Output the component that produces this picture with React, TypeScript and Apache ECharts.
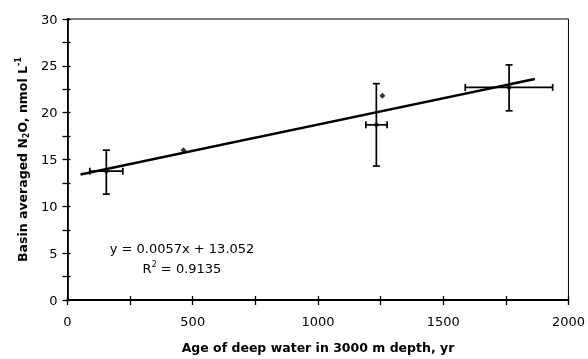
import React, { useEffect, useRef } from "react";
import * as echarts from "echarts";

const errX = [155, 1233, 1763];
const errY = [13.75, 18.7, 22.7];
const errYLow = [11.3, 14.3, 20.2];
const errYHigh = [16.0, 23.1, 25.1];
const errXLow = [89, 1191, 1588];
const errXHigh = [221, 1276, 1937];
const plainX = [463, 1257];
const plainY = [16.0, 21.8];
const trendX = [52, 1866];
const trendY = [13.4, 23.6];
const xTicks = [0, 500, 1000, 1500, 2000];
const yTicks = [0, 5, 10, 15, 20, 25, 30];

const FONT = "DejaVu Sans, Liberation Sans, Arial, sans-serif";

export default function App() {
  const ref = useRef<HTMLDivElement>(null);
  useEffect(() => {
    if (!ref.current) return;
    const chart = echarts.init(ref.current, undefined, { renderer: "svg" });
    const errData = errX.map((x, i) => [x, errY[i], errYLow[i], errYHigh[i], errXLow[i], errXHigh[i]]);
    const xFmt = (v: number) => (xTicks.indexOf(v) >= 0 ? String(v) : "");
    const yFmt = (v: number) => (yTicks.indexOf(v) >= 0 ? String(v) : "");
    const axisBaseX = { type: "value", min: 0, max: 2000, interval: 250 };
    const axisBaseY = { type: "value", min: 0, max: 30, interval: 2.5 };
    chart.setOption({
      animation: false,
      grid: { left: 67.5, right: 16.5, top: 19, bottom: 55, show: true, borderColor: "#000", borderWidth: 1, backgroundColor: "transparent" },
      xAxis: [
        {
          ...axisBaseX,
          name: "Age of deep water in 3000 m depth, yr",
          nameLocation: "middle",
          nameGap: 41,
          nameTextStyle: { fontFamily: FONT, fontSize: 12.5, fontWeight: "bold", color: "#000" },
          axisLine: { show: true, onZero: false, lineStyle: { color: "#000", width: 1.8 } },
          axisTick: { show: true, length: 5, lineStyle: { color: "#000", width: 1.3 } },
          axisLabel: { formatter: xFmt, fontFamily: FONT, fontSize: 13, color: "#000", margin: 15 },
          splitLine: { show: false },
        },
        {
          ...axisBaseX,
          position: "bottom",
          axisLine: { show: false, onZero: false },
          axisTick: { show: true, inside: true, length: 4, lineStyle: { color: "#000", width: 1.3 } },
          axisLabel: { show: false },
          splitLine: { show: false },
        },
      ],
      yAxis: [
        {
          ...axisBaseY,
          name: "Basin averaged N{sub|2}O, nmol L{sup|-1}",
          nameLocation: "middle",
          nameGap: 37,
          nameTextStyle: {
            fontFamily: FONT, fontSize: 12.5, fontWeight: "bold", color: "#000",
            rich: {
              sub: { fontFamily: FONT, fontSize: 8, fontWeight: "bold", color: "#000", padding: [8, 0, 0, 0] },
              sup: { fontFamily: FONT, fontSize: 8, fontWeight: "bold", color: "#000", padding: [0, 0, 8, 0] },
            },
          },
          axisLine: { show: true, onZero: false, lineStyle: { color: "#000", width: 1.8 } },
          axisTick: { show: true, length: 5, lineStyle: { color: "#000", width: 1.3 } },
          axisLabel: { formatter: yFmt, fontFamily: FONT, fontSize: 13, color: "#000", margin: 10 },
          splitLine: { show: false },
        },
        {
          ...axisBaseY,
          position: "left",
          axisLine: { show: false, onZero: false },
          axisTick: { show: true, inside: true, length: 3, lineStyle: { color: "#000", width: 1.3 } },
          axisLabel: { show: false },
          splitLine: { show: false },
        },
      ],
      graphic: [
        { type: "text", x: 182, y: 248, style: { text: "y = 0.0057x + 13.052", fontFamily: FONT, fontSize: 13, fill: "#000", align: "center", verticalAlign: "middle" } },
        {
          type: "text", x: 182, y: 268,
          style: {
            text: "R{sup|2} = 0.9135", fontFamily: FONT, fontSize: 13, fill: "#000", align: "center", verticalAlign: "middle",
            rich: { sup: { fontFamily: FONT, fontSize: 8, fill: "#000", padding: [0, 0, 8, 0] } },
          },
        },
      ],
      series: [
        {
          type: "line",
          data: trendX.map((x, i) => [x, trendY[i]]),
          showSymbol: false,
          lineStyle: { color: "#000", width: 2.5 },
          z: 3,
        },
        {
          type: "custom",
          data: errData,
          renderItem: (params: any, api: any) => {
            const c = api.coord([api.value(0), api.value(1)]);
            const yl = api.coord([api.value(0), api.value(2)]);
            const yh = api.coord([api.value(0), api.value(3)]);
            const xl = api.coord([api.value(4), api.value(1)]);
            const xh = api.coord([api.value(5), api.value(1)]);
            const cap = 3.5;
            const st = { stroke: "#000", lineWidth: 1.7 };
            return {
              type: "group",
              children: [
                { type: "line", shape: { x1: c[0], y1: yl[1], x2: c[0], y2: yh[1] }, style: st },
                { type: "line", shape: { x1: c[0] - cap, y1: yl[1], x2: c[0] + cap, y2: yl[1] }, style: st },
                { type: "line", shape: { x1: c[0] - cap, y1: yh[1], x2: c[0] + cap, y2: yh[1] }, style: st },
                { type: "line", shape: { x1: xl[0], y1: c[1], x2: xh[0], y2: c[1] }, style: st },
                { type: "line", shape: { x1: xl[0], y1: c[1] - cap, x2: xl[0], y2: c[1] + cap }, style: st },
                { type: "line", shape: { x1: xh[0], y1: c[1] - cap, x2: xh[0], y2: c[1] + cap }, style: st },
              ],
            };
          },
          z: 4,
        },
        {
          type: "scatter",
          data: errX.map((x, i) => [x, errY[i]]).concat(plainX.map((x, i) => [x, plainY[i]])),
          symbol: "diamond",
          symbolSize: 6,
          itemStyle: { color: "#000" },
          z: 5,
        },
      ],
    });
    return () => chart.dispose();
  }, []);
  return <div ref={ref} style={{ position: "fixed", left: 0, top: 0, width: 588, height: 359 }} />;
}
